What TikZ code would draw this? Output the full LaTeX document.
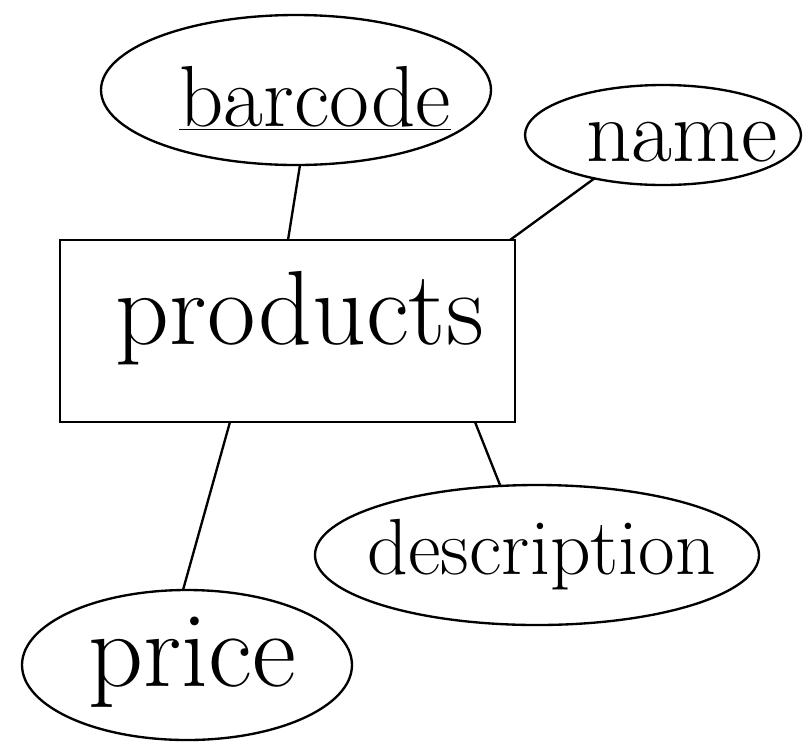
\documentclass[tikz,border=0pt]{standalone}
\usetikzlibrary{shapes.geometric}
\begin{document}
\begin{tikzpicture}[x=0.03cm,y=-0.03cm,
  ink/.style={line width=2pt,black},
  attr/.style={ink,draw,ellipse,inner sep=0pt},
  word/.style={font=\fontsize{#1}{#1}\selectfont}]
\useasboundingbox (0,0) rectangle (804,742);
% entity
\node[ink,draw,rectangle,minimum width=455*0.03cm,minimum height=182*0.03cm] (prod) at (287.5,331) {};
\node[word=90pt] (prodtxt) at (300,318) {products};
% attributes
\node[attr,minimum width=390*0.03cm,minimum height=150*0.03cm] (barcode) at (296,90) {};
\node[word=74pt] (barcodetxt) at (315,98) {\underline{barcode}};
\node[attr,minimum width=276*0.03cm,minimum height=100*0.03cm] (name) at (663,135) {};
\node[word=76pt] (nametxt) at (682,142) {name};
\node[attr,minimum width=444*0.03cm,minimum height=140*0.03cm] (desc) at (537,555) {};
\node[word=68pt] (desctxt) at (542,555) {description};
\node[attr,minimum width=330*0.03cm,minimum height=150*0.03cm] (price) at (187,665) {};
\node[word=92pt] (pricetxt) at (192,662) {price};
% connector ends
\coordinate (b1) at (300,165);
\coordinate (p1) at (288,240);
\coordinate (n1) at (595,178);
\coordinate (p2) at (510,240);
\coordinate (p3) at (230,422);
\coordinate (r1) at (183,590);
\coordinate (p4) at (475,422);
\coordinate (d1) at (500,485);
\draw[ink] (b1) -- (p1);
\draw[ink] (n1) -- (p2);
\draw[ink] (p3) -- (r1);
\draw[ink] (p4) -- (d1);
\end{tikzpicture}
\end{document}
